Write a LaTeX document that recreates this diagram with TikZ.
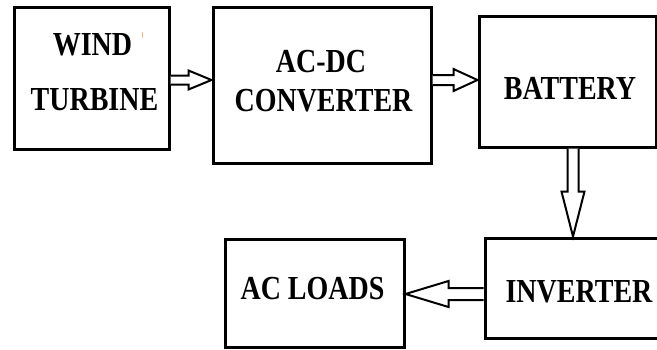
\documentclass[tikz,border=0pt]{standalone}
\usepackage{fontspec}
\setmainfont{Liberation Serif}
\usetikzlibrary{calc}
\newcommand\lbl[1]{\scalebox{1}[1.2]{\bfseries\fontsize{28}{30}\selectfont #1}}
\begin{document}
\begin{tikzpicture}[x=1pt,y=-1pt,
  box/.style={draw, line width=3pt, inner sep=0pt, line join=miter},
  txt/.style={anchor=base, inner sep=0pt},
  fatarrow/.style={draw, line width=2pt, fill=white, line join=miter}]
\useasboundingbox (0,0) rectangle (657,349);
\clip (0,0) rectangle (657,349);
% boxes
\node[box, minimum width=155pt, minimum height=142pt] (wt) at (91.5,78) {};
\node[box, minimum width=218pt, minimum height=156pt] (ac) at (322,85) {};
\node[box, minimum width=177pt, minimum height=131pt] (bat) at (567.5,81.5) {};
\node[box, minimum width=195pt, minimum height=100pt] (inv) at (582.5,288) {};
\node[box, minimum width=179pt, minimum height=108pt] (ld) at (314.5,293) {};
% texts
\node[txt] (t1) at (92.5,55) {\lbl{WIND}};
\node[txt] (t2) at (94.5,110) {\lbl{TURBINE}};
\node[txt] (t3) at (321,72) {\lbl{AC-DC}};
\node[txt] (t4) at (323.5,111) {\lbl{CONVERTER}};
\node[txt] (t5) at (570,99) {\lbl{BATTERY}};
\node[txt] (t6) at (579,302) {\lbl{INVERTER}};
\node[txt] (t7) at (312.5,299) {\lbl{AC LOADS}};
\draw[brown!50, line width=0.8pt] (142,32) -- (142,38);
% connector anchor rows
\coordinate (r1) at (0,80);
\coordinate (c3) at (573,0);
\coordinate (r4) at (0,294);
% arrow 1: wind turbine -> ac-dc
\draw[fatarrow] let \p1=(wt.east |- r1), \p2=(ac.west |- r1) in
  (\x1,\y1+4.5pt) -- (\x2-23pt,\y1+4.5pt) -- (\x2-23pt,\y1+9.5pt) -- (\x2,\y1)
  -- (\x2-23pt,\y1-9.5pt) -- (\x2-23pt,\y1-4.5pt) -- (\x1,\y1-4.5pt);
% arrow 2: ac-dc -> battery
\draw[fatarrow] let \p1=(ac.east |- r1), \p2=(bat.west |- r1) in
  (\x1,\y1+5pt) -- (\x2-24pt,\y1+5pt) -- (\x2-24pt,\y1+11pt) -- (\x2,\y1)
  -- (\x2-24pt,\y1-11pt) -- (\x2-24pt,\y1-5pt) -- (\x1,\y1-5pt);
% arrow 3: battery -> inverter
\draw[fatarrow] let \p1=(bat.south -| c3), \p2=(inv.north -| c3) in
  (\x1-5.5pt,\y1) -- (\x1-5.5pt,\y2+45pt) -- (\x1-11.5pt,\y2+45pt) -- (\x1,\y2)
  -- (\x1+11.5pt,\y2+45pt) -- (\x1+5.5pt,\y2+45pt) -- (\x1+5.5pt,\y1);
% arrow 4: inverter -> ac loads
\draw[fatarrow] let \p1=(inv.west |- r4), \p2=(ld.east |- r4) in
  (\x1,\y1+6pt) -- (\x2+43pt,\y1+6pt) -- (\x2+43pt,\y1+13pt) -- (\x2,\y1)
  -- (\x2+43pt,\y1-13pt) -- (\x2+43pt,\y1-6pt) -- (\x1,\y1-6pt);
\end{tikzpicture}
\end{document}
